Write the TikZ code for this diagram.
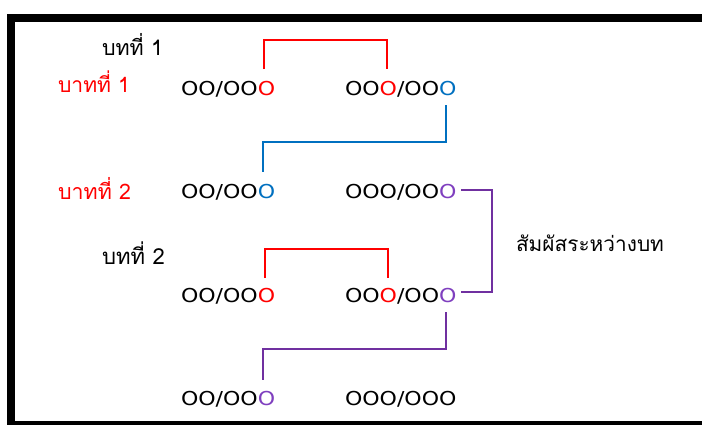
\documentclass[tikz,border=0pt]{standalone}
\usepackage{fontspec}
\usepackage{graphicx}
\newfontfamily\ofont{DejaVu Sans}
\newfontfamily\thaifont[Script=Thai]{Loma}
\definecolor{cred}{HTML}{FF0000}
\definecolor{cblue}{HTML}{0070C0}
\definecolor{cpurple}{HTML}{7030A0}
\definecolor{cpurpletxt}{HTML}{7F3FBF}
\newcommand\Rr[1]{\textcolor{cred}{#1}}
\newcommand\Bb[1]{\textcolor{cblue}{#1}}
\newcommand\Pp[1]{\textcolor{cpurpletxt}{#1}}
\newcommand\oseq[1]{\scalebox{1.15}[1]{\fontsize{19.3}{22}\ofont #1}}
\newcommand\thlab[2]{\resizebox{#1}{!}{\thaifont #2}}
\tikzset{
  txt/.style={anchor=base west, inner sep=0pt, outer sep=0pt},
  link/.style={line width=2.6pt, line cap=butt, line join=miter},
}
\begin{document}
\begin{tikzpicture}[x=1.0072pt,y=-1.0072pt]
\useasboundingbox (0,0) rectangle (702,424);
\fill[white] (-30,-30) rectangle (760,460);
\fill[black] (7,14) rectangle (760,22);
\fill[black] (7,14) rectangle (15,460);
\fill[black] (7,421.3) rectangle (760,460);
% labels
\node[txt] (s1) at (102,55) {\thlab{61.4pt}{บทที่ 1}};
\node[txt, text=cred] (p1) at (58,92) {\thlab{72.5pt}{บาทที่ 1}};
\node[txt, text=cred] (p2) at (58,199) {\thlab{73.5pt}{บาทที่ 2}};
\node[txt] (s2) at (102,264) {\thlab{63.4pt}{บทที่ 2}};
\node[txt] (lab) at (516,251) {\thlab{149pt}{สัมผัสระหว่างบท}};
% rows
\node[txt] (a1) at (181,95.5) {\oseq{OO/OO\Rr{O}}};
\node[txt] (b1) at (345,95.5) {\oseq{OO\Rr{O}/OO\Bb{O}}};
\node[txt] (a2) at (181,198.5) {\oseq{OO/OO\Bb{O}}};
\node[txt] (b2) at (345,198.5) {\oseq{OOO/OO\Pp{O}}};
\node[txt] (a3) at (181,302) {\oseq{OO/OO\Rr{O}}};
\node[txt] (b3) at (345,302) {\oseq{OO\Rr{O}/OO\Pp{O}}};
\node[txt] (a4) at (181,405) {\oseq{OO/OO\Pp{O}}};
\node[txt] (b4) at (345,405) {\oseq{OOO/OOO}};
% connector end points
\coordinate (r1a) at (264,69);
\coordinate (r1b) at (387,69);
\coordinate (bl1) at (446,105);
\coordinate (bl2) at (263,172);
\coordinate (pu1) at (461,190);
\coordinate (pu2) at (461,292);
\coordinate (r3a) at (265,278);
\coordinate (r3b) at (388,278);
\coordinate (pb1) at (446,312);
\coordinate (pb2) at (263,380);
% connectors
\draw[link, cred] (r1a) -- ++(0,-29) -| (r1b);
\draw[link, cblue] (bl1) |- (263,142) -- (bl2);
\draw[link, cpurple] (pu1) -- (492,190) |- (pu2);
\draw[link, cred] (r3a) -- ++(0,-29) -| (r3b);
\draw[link, cpurple] (pb1) |- (263,349) -- (pb2);
\end{tikzpicture}
\end{document}
